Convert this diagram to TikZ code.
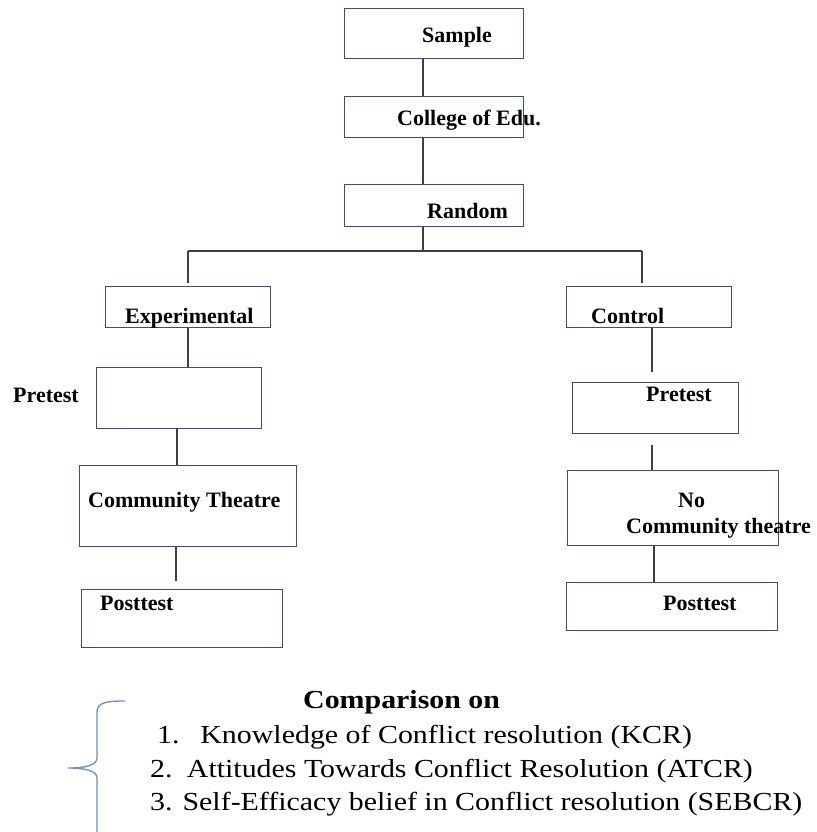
\documentclass[tikz,border=0pt]{standalone}
\usepackage{fontspec}
\setmainfont{Liberation Serif}
\newfontfamily\wideserif[FakeStretch=1.15]{Liberation Serif}
\begin{document}
\begin{tikzpicture}[x=1pt,y=-1pt,
  box/.style={draw=boxc, line width=1.4pt, rectangle, inner sep=0pt, anchor=north west},
  lbl/.style={anchor=base west, inner sep=0pt, font=\bfseries\fontsize{22}{24}\selectfont, text=black},
  conn/.style={draw=linec, line width=1.3pt},
  cmp/.style={anchor=base west, inner sep=0pt, font=\wideserif\fontsize{26}{30}\selectfont, text=black},
  cmpb/.style={anchor=base west, inner sep=0pt, font=\wideserif\bfseries\fontsize{26}{30}\selectfont, text=black},
  brace/.style={draw=bracec, line width=1.3pt}]
\definecolor{boxc}{HTML}{3F4D6E}
\definecolor{linec}{HTML}{404040}
\definecolor{bracec}{HTML}{6A8BD0}
\useasboundingbox (0,0) rectangle (816,832);
\fill[white] (0,0) rectangle (816,832);

% boxes
\node[box, minimum width=179pt, minimum height=50pt] (sample) at (344,8) {};
\node[box, minimum width=179pt, minimum height=41pt] (college) at (344,96) {};
\node[box, minimum width=179pt, minimum height=42pt] (random) at (344,184) {};
\node[box, minimum width=165pt, minimum height=41pt] (exp) at (105,286) {};
\node[box, minimum width=165pt, minimum height=61pt] (preL) at (96,367) {};
\node[box, minimum width=217pt, minimum height=81pt] (ct) at (79,465) {};
\node[box, minimum width=201pt, minimum height=58pt] (postL) at (81,589) {};
\node[box, minimum width=165pt, minimum height=41pt] (ctrl) at (566,286) {};
\node[box, minimum width=166pt, minimum height=51pt] (preR) at (572,382) {};
\node[box, minimum width=211pt, minimum height=75pt] (noct) at (567,470) {};
\node[box, minimum width=211pt, minimum height=48pt] (postR) at (566,582) {};

% labels
\node[lbl] (tsample) at (422,43) {Sample};
\node[lbl] (tcollege) at (397,125) {College of Edu.};
\node[lbl] (trandom) at (427,218) {Random};
\node[lbl] (texp) at (125,323) {Experimental};
\node[lbl] (tpreL) at (13,402) {Pretest};
\node[lbl] (tct) at (88,507) {Community Theatre};
\node[lbl] (tpostL) at (100,610) {Posttest};
\node[lbl] (tctrl) at (591,323) {Control};
\node[lbl] (tpreR) at (646,401) {Pretest};
\node[lbl] (tno) at (678,507) {No};
\node[lbl] (tnoct) at (626,533) {Community theatre};
\node[lbl] (tpostR) at (663,610) {Posttest};

% connector coordinates
\coordinate (xm) at (423,0);
\coordinate (xa) at (188,0);
\coordinate (xb) at (177,0);
\coordinate (xc) at (176,0);
\coordinate (xd) at (642,0);
\coordinate (xe) at (652,0);
\coordinate (xf) at (654,0);
\coordinate (split) at (423,251);
\coordinate (splitL) at (188,251);
\coordinate (splitR) at (642,251);

% connectors
\draw[conn] (sample.south -| xm) -- (college.north -| xm);
\draw[conn] (college.south -| xm) -- (random.north -| xm);
\draw[conn] (random.south -| xm) -- (split);
\draw[conn] (splitL) -- (splitR);
\draw[conn, shorten >=3pt] (splitL) -- (exp.north -| xa);
\draw[conn, shorten >=3pt] (splitR) -- (ctrl.north -| xd);
\draw[conn] (exp.south -| xa) -- (preL.north -| xa);
\draw[conn] (preL.south -| xb) -- (ct.north -| xb);
\draw[conn, shorten >=8pt] (ct.south -| xc) -- (postL.north -| xc);
\draw[conn, shorten >=10pt] (ctrl.south -| xe) -- (preR.north -| xe);
\draw[conn, shorten <=11pt] (preR.south -| xe) -- (noct.north -| xe);
\draw[conn] (noct.south -| xf) -- (postR.north -| xf);

% comparison
\draw[brace] (125,701) .. controls (108,701) and (97,702) .. (97,712)
  -- (97,758) .. controls (97,765) and (86,768) .. (68,768)
  .. controls (86,768) and (97,771) .. (97,778) -- (97,832);
\node[cmpb] (cmp0) at (303,708) {Comparison on};
\node[cmp] (cmp1) at (157,743) {1.\hspace{0.8em}Knowledge of Conflict resolution (KCR)};
\node[cmp] (cmp2) at (150,777) {2.\hspace{0.55em}Attitudes Towards Conflict Resolution (ATCR)};
\node[cmp] (cmp3) at (150,810) {3. Self-Efficacy belief in Conflict resolution (SEBCR)};
\end{tikzpicture}
\end{document}
